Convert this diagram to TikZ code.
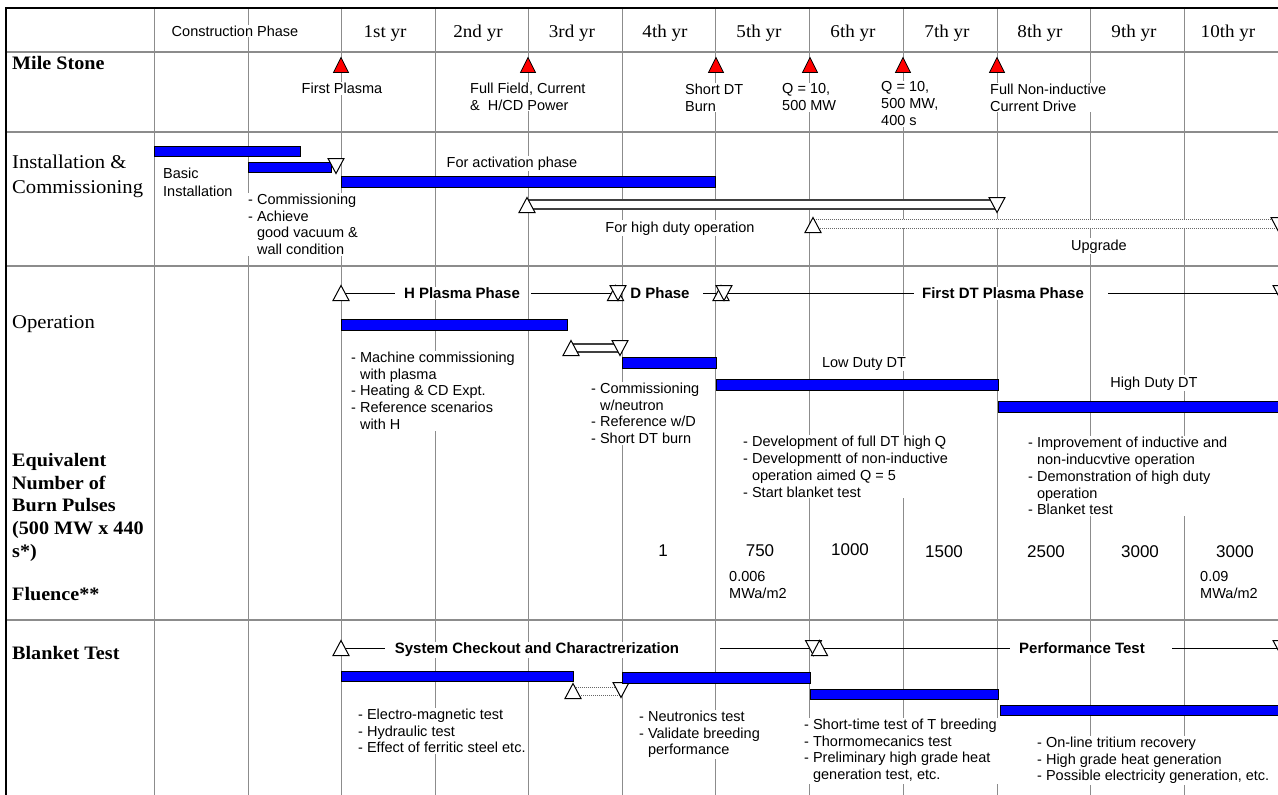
\documentclass[tikz,border=0pt]{standalone}
\usepackage{fontspec}
\setmainfont{Liberation Serif}
\newfontfamily\arl{Liberation Sans}
\newfontfamily\lbl[FakeStretch=1.06]{Liberation Serif}
\begin{document}
\begin{tikzpicture}[x=1pt,y=-1pt,
  grid/.style={draw=black!45, line width=0.9pt},
  rowline/.style={draw=black!45, line width=2.2pt},
  border/.style={draw=black, line width=2pt},
  bar/.style={draw=black, fill=blue, line width=0.9pt},
  obar/.style={draw=black!75, fill=white, line width=1.3pt},
  dbar/.style={draw=black!60, densely dotted, fill=white, line width=1pt},
  phase/.style={draw=black, line width=0.9pt},
  tri/.style={draw=black, fill=white, line width=1pt, line join=miter},
  mile/.style={draw=black, fill=red, line width=0.8pt, line join=miter},
  tx/.style={font=\arl\fontsize{14.5}{16.8}\selectfont, align=left, anchor=north west, inner sep=1pt, fill=white},
  txc/.style={font=\arl\fontsize{14.5}{16.8}\selectfont, anchor=base, inner sep=1pt, fill=white},
  ttl/.style={font=\arl\bfseries\fontsize{15}{17}\selectfont, anchor=base, inner sep=1pt, fill=white},
  num/.style={font=\arl\fontsize{17}{20}\selectfont, anchor=base, inner sep=1pt, fill=white},
  yr/.style={font=\lbl\fontsize{18}{20}\selectfont, anchor=base, inner sep=1pt, fill=white},
  lab/.style={font=\lbl\bfseries\fontsize{19}{22.75}\selectfont, anchor=base west, inner sep=0pt},
  labr/.style={font=\lbl\fontsize{19.5}{24}\selectfont, anchor=base west, inner sep=0pt},
  tup/.pic={\path[tri] (-8,7.5) -- (8,7.5) -- (0,-7.5) -- cycle;},
  tdn/.pic={\path[tri] (-8,-7.5) -- (8,-7.5) -- (0,7.5) -- cycle;},
  mup/.pic={\path[mile] (-7.5,7.5) -- (7.5,7.5) -- (0,-7.5) -- cycle;},
]
\useasboundingbox (0,0) rectangle (1278,795);
\fill[white] (0,0) rectangle (1278,795);

% grid
\foreach \x in {154,248,341,435,528,622,715,809,903,997,1090,1184}
  \draw[grid] (\x,8) -- (\x,795);
\foreach \y in {52,132,266,620}
  \draw[rowline] (6,\y) -- (1278,\y);
\draw[border] (6,795) -- (6,8) -- (1278,8);

% header
\node[txc] (hcons) at (235,36.2) {Construction Phase};
\node[yr] (y1) at (385,37) {1st yr};
\node[yr] (y2) at (478,37) {2nd yr};
\node[yr] (y3) at (572,37) {3rd yr};
\node[yr] (y4) at (665,37) {4th yr};
\node[yr] (y5) at (759,37) {5th yr};
\node[yr] (y6) at (853,37) {6th yr};
\node[yr] (y7) at (947,37) {7th yr};
\node[yr] (y8) at (1040,37) {8th yr};
\node[yr] (y9) at (1134,37) {9th yr};
\node[yr] (y10) at (1228,37) {10th yr};

% row labels
\node[lab] (lmile) at (12,69.5) {Mile Stone};
\node[labr] (linst1) at (12,168.5) {Installation \&};
\node[labr] (linst2) at (12,193.5) {Commissioning};
\node[labr] (lop) at (12,328.5) {Operation};
\node[lab] (leq1) at (12,466.5) {Equivalent};
\node[lab] (leq2) at (12,489) {Number of};
\node[lab] (leq3) at (12,511.5) {Burn Pulses};
\node[lab] (leq4) at (12,534) {(500 MW x 440};
\node[lab] (leq5) at (12,557) {s*)};
\node[lab] (lflu) at (12,600) {Fluence**};
\node[lab] (lbl) at (12,659) {Blanket Test};

% milestones
\pic at (341,65) {mup};
\pic at (528,65) {mup};
\pic at (716,65) {mup};
\pic at (810,65) {mup};
\pic at (903,65) {mup};
\pic at (997,65) {mup};
\node[txc] (m1) at (342,93.5) {First Plasma};
\node[tx] (m2) at (469,81.6) {Full Field, Current\\\&\ \ H/CD Power};
\node[tx] (m3) at (684,82.6) {Short DT\\Burn};
\node[tx] (m4) at (781,82.6) {Q = 10,\\500 MW};
\node[tx] (m5) at (880,80.6) {Q = 10,\\500 MW,\\400 s};
\node[tx] (m6) at (989,82.6) {Full Non-inductive\\Current Drive};

% installation & commissioning
\draw[bar] (154,146) rectangle (300,156);
\draw[bar] (248,162) rectangle (331,172);
\pic at (336,166) {tdn};
\draw[bar] (341,176) rectangle (715,187);
\draw[obar] (527,200) rectangle (997,209);
\pic at (527,205) {tup};
\pic at (997,205) {tdn};
\draw[dbar] (813,219) rectangle (1295,228);
\pic at (813,225) {tup};
\pic at (1279,225) {tdn};
\node[tx, font=\arl\fontsize{14.5}{18.5}\selectfont] (basic) at (162,166.6) {Basic\\Installation};
\node[txc] (act) at (512,167.2) {For activation phase};
\node[tx] (comm) at (247,192.6) {- Commissioning\\- Achieve\\\hphantom{- }good vacuum \&\\\hphantom{- }wall condition};
\node[txc] (hdo) at (680,232) {For high duty operation};
\node[txc] (upg) at (1099,250) {Upgrade};

% operation phase line
\coordinate (oS) at (341,293);
\coordinate (oA) at (395,293);
\coordinate (oB) at (531,293);
\coordinate (oC) at (612,293);
\coordinate (oD) at (703,293);
\coordinate (oE) at (718,293);
\coordinate (oF) at (726,293);
\coordinate (oG) at (914,293);
\coordinate (oH) at (1108,293);
\coordinate (oI) at (1285,293);
\draw[phase] (oS) -- (oA);
\draw[phase] (oB) -- (oC);
\draw[phase] (oD) -- (oE);
\draw[phase] (oF) -- (oG);
\draw[phase] (oH) -- (oI);
\pic at (341,293) {tup};
\pic at (615.5,293) {tup};
\pic at (618,293) {tdn};
\pic at (721,293) {tup};
\pic at (724,293) {tdn};
\pic at (1281,293) {tdn};
\node[ttl] (hph) at (462,298.4) {H Plasma Phase};
\node[ttl] (dph) at (660,298.4) {D Phase};
\node[ttl] (dtph) at (1003,298.4) {First DT Plasma Phase};

% operation bars
\draw[bar] (341,319) rectangle (567,330);
\draw[obar] (571,344) rectangle (620,352);
\pic at (571,348) {tup};
\pic at (620,348) {tdn};
\draw[bar] (622,357) rectangle (716,368);
\draw[bar] (716,379) rectangle (998,390);
\draw[bar] (998,401) rectangle (1290,412);
\node[tx] (opH) at (350,350.6) {- Machine commissioning\\\hphantom{- }with plasma\\- Heating \& CD Expt.\\- Reference scenarios\\\hphantom{- }with H};
\node[tx] (opD) at (590,381.6) {- Commissioning\\\hphantom{- }w/neutron\\- Reference w/D\\- Short DT burn};
\node[txc] (ldt) at (864,367) {Low Duty DT};
\node[txc] (hdt) at (1154,387) {High Duty DT};
\node[tx] (opL) at (742,435) {- Development of full DT high Q\\- Developmentt of non-inductive\\\hphantom{- }operation aimed Q = 5\\- Start blanket test};
\node[tx] (opHD) at (1027,436) {- Improvement of inductive and\\\hphantom{- }non-inducvtive operation\\- Demonstration of high duty\\\hphantom{- }operation\\- Blanket test};

% numbers
\node[num] (n4) at (663,556) {1};
\node[num] (n5) at (760,556) {750};
\node[num] (n6) at (850,555) {1000};
\node[num] (n7) at (944,557) {1500};
\node[num] (n8) at (1046,557) {2500};
\node[num] (n9) at (1140,557) {3000};
\node[num] (n10) at (1235,557) {3000};
\node[tx] (f5) at (728,570.6) {0.006\\MWa/m2};
\node[tx] (f10) at (1199,570.6) {0.09\\MWa/m2};

% blanket phase line
\coordinate (bS) at (341,648);
\coordinate (bA) at (385,648);
\coordinate (bB) at (720,648);
\coordinate (bC) at (810,648);
\coordinate (bD) at (822,648);
\coordinate (bE) at (1010,648);
\coordinate (bF) at (1172,648);
\coordinate (bG) at (1285,648);
\draw[phase] (bS) -- (bA);
\draw[phase] (bB) -- (bC);
\draw[phase] (bD) -- (bE);
\draw[phase] (bF) -- (bG);
\pic at (341,648) {tup};
\pic at (813.5,648) {tdn};
\pic at (819.5,648) {tup};
\pic at (1281,648) {tdn};
\node[ttl] (sck) at (537,653.4) {System Checkout and Charactrerization};
\node[ttl] (pft) at (1082,653.4) {Performance Test};

% blanket bars
\draw[bar] (341,671) rectangle (573,681);
\draw[dbar] (573,687) rectangle (621,695);
\pic at (573,691) {tup};
\pic at (621,690) {tdn};
\draw[bar] (622,672) rectangle (810,683);
\draw[bar] (810,689) rectangle (998,699);
\draw[bar] (1000,705) rectangle (1290,715);
\node[tx] (bt1) at (357,707.6) {- Electro-magnetic test\\- Hydraulic test\\- Effect of ferritic steel etc.};
\node[tx] (bt2) at (638,709.6) {- Neutronics test\\- Validate breeding\\\hphantom{- }performance};
\node[tx] (bt3) at (803,717.6) {- Short-time test of T breeding\\- Thormomecanics test\\- Preliminary high grade heat\\\hphantom{- }generation test, etc.};
\node[tx] (bt4) at (1036,735.6) {- On-line tritium recovery\\- High grade heat generation\\- Possible electricity generation, etc.};
\end{tikzpicture}
\end{document}
